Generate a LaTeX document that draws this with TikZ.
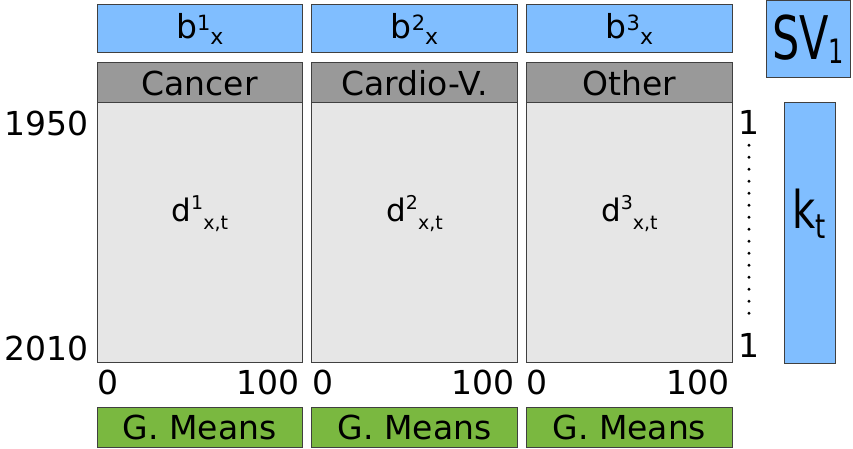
\documentclass[tikz,border=0pt]{standalone}
\usepackage{graphicx}
\usepackage{xcolor}
\usepackage{fontspec}
\setmainfont{DejaVu Sans}

\definecolor{bblue}{RGB}{128,190,255}
\definecolor{hgray}{RGB}{153,153,153}
\definecolor{lgray}{RGB}{230,230,230}
\definecolor{mgreen}{RGB}{122,184,64}
\definecolor{edge}{RGB}{64,64,64}

\tikzset{
  box/.style={draw=edge, line width=1pt, inner sep=0pt, minimum width=205.5pt},
  bbox/.style={box, fill=bblue, minimum height=48pt},
  catbox/.style={box, fill=hgray, minimum height=40pt},
  bodybox/.style={box, fill=lgray, minimum height=259pt},
  meanbox/.style={box, fill=mgreen, minimum height=40pt},
  big/.style={font=\fontsize{33}{33}\selectfont, inner sep=0pt}
}

\begin{document}
\begin{tikzpicture}[x=1pt,y=1pt]
  \useasboundingbox (0,0) rectangle (853,448);
  \foreach \i/\name in {1/Cancer,2/Cardio-V.,3/Other}{
    \pgfmathsetmacro\L{97+214.8*(\i-1)}
    \node[bbox] (b\i) at (\L+102.75,419) {\fontsize{33}{33}\selectfont b\raisebox{8pt}{\fontsize{21}{21}\selectfont \i}\raisebox{-6pt}{\fontsize{22}{22}\selectfont x}};
    \node[catbox] (cat\i) at (\L+102.75,365) {\fontsize{33}{33}\selectfont \name};
    \node[bodybox] (body\i) at (\L+102.75,215.5) {};
    \node[inner sep=0pt] (d\i) at (\L+102.75,234) {\fontsize{31}{31}\selectfont d\raisebox{12pt}{\fontsize{19}{19}\selectfont \i}\raisebox{-8pt}{\fontsize{19}{19}\selectfont x,t}};
    \node[big, anchor=west] (lo\i) at (\L,66) {0};
    \node[big, anchor=east] (hi\i) at (\L+203,66) {100};
    \node[meanbox] (gm\i) at (\L+102.75,21) {\fontsize{33}{33}\selectfont G. Means};
  }
  % years
  \node[big, anchor=east] (y1) at (89,325) {1950};
  \node[big, anchor=east] (y2) at (89,100) {2010};
  % right side
  \node[big] (top1) at (749,326) {1};
  \node[big] (bot1) at (749,103) {1};
  \draw[line width=3.2pt, line cap=round, dash pattern=on 0pt off 12pt, shorten <=11pt, shorten >=11pt] (top1.south) -- (bot1.north);
  \node[draw=edge, line width=1pt, fill=bblue, minimum width=51pt, minimum height=260pt, inner sep=0pt] (kbox) at (809.5,215) {};
  \node[inner sep=0pt] (kt) at (809.5,234) {\scalebox{1}[1.3]{\fontsize{40}{40}\selectfont k\raisebox{-8pt}{\fontsize{26}{26}\selectfont t}}};
  \node[draw=edge, line width=1pt, fill=bblue, minimum width=84pt, minimum height=77pt, inner sep=0pt] (sv) at (808,408.5) {\scalebox{1}[1.4]{\fontsize{43}{43}\selectfont SV\raisebox{-3pt}{\fontsize{24}{24}\selectfont 1}}};
\end{tikzpicture}
\end{document}
